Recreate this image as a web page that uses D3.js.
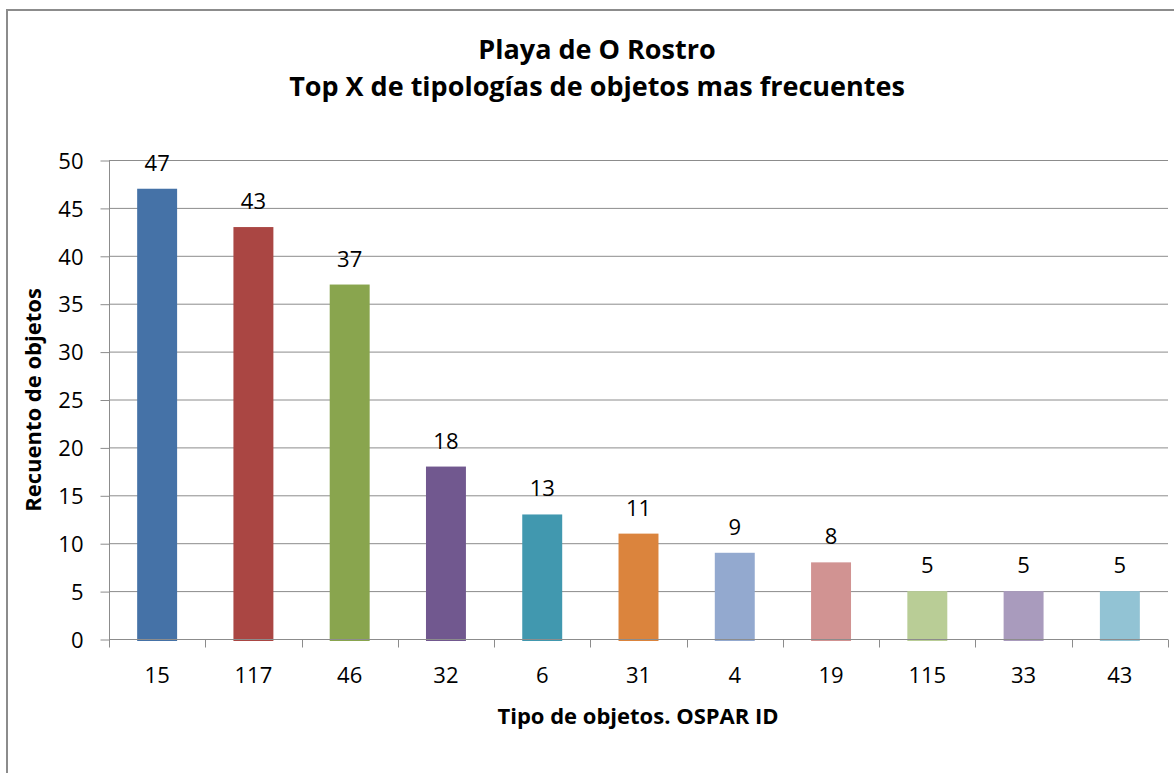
<!DOCTYPE html>
<html>
<head>
<meta charset="utf-8">
<script src="https://cdn.jsdelivr.net/npm/d3@7"></script>
<style>
  body { margin: 0; background: #fff; }
  text { font-family: "Open Sans", "Noto Sans", sans-serif; fill: #000; }
</style>
</head>
<body>
<div id="chart"></div>
<script>
// datos
var categorias = ['15', '117', '46', '32', '6', '31', '4', '19', '115', '33', '43']
var valores = [47, 43, 37, 18, 13, 11, 9, 8, 5, 5, 5]
var colores = ['#4572a7', '#aa4643', '#89a54e', '#71588f', '#4198af', '#db843d',
  '#93a9cf', '#d19392', '#b9cd96', '#a99bbd', '#92c3d4']
var ticksY = [0, 5, 10, 15, 20, 25, 30, 35, 40, 45, 50]
var titulo = ['Playa de O Rostro', 'Top X de tipologías de objetos mas frecuentes']

var width = 1174
var height = 773
var plot = { left: 109, right: 1168, top: 160, bottom: 639 }

var svg = d3.select('#chart').append('svg')
  .attr('width', width)
  .attr('height', height)

// marco exterior
svg.append('rect')
  .attr('x', 7).attr('y', 10)
  .attr('width', width + 20).attr('height', height + 20)
  .attr('fill', '#fff')
  .attr('stroke', '#8c8c8c')
  .attr('stroke-width', 2)

var x = d3.scaleBand()
  .domain(categorias)
  .range([plot.left, plot.right])
  .paddingInner(0.585)
  .paddingOuter(0.2925)

var y = d3.scaleLinear()
  .domain([0, 50])
  .range([plot.bottom, plot.top])

// lineas de division
svg.append('g')
  .selectAll('line')
  .data(ticksY.slice(1))
  .enter().append('line')
  .attr('x1', plot.left).attr('x2', plot.right)
  .attr('y1', function (d) { return y(d) + 0.5 })
  .attr('y2', function (d) { return y(d) + 0.5 })
  .attr('stroke', '#8c8c8c')
  .attr('stroke-width', 1)

// barras
svg.append('g')
  .selectAll('rect')
  .data(valores)
  .enter().append('rect')
  .attr('x', function (d, i) { return x(categorias[i]) })
  .attr('y', function (d) { return y(d) })
  .attr('width', x.bandwidth())
  .attr('height', function (d) { return y(0) - y(d) + 2 })
  .attr('fill', function (d, i) { return colores[i] })

// etiquetas de datos
svg.append('g')
  .selectAll('text')
  .data(valores)
  .enter().append('text')
  .attr('x', function (d, i) { return x(categorias[i]) + x.bandwidth() / 2 })
  .attr('y', function (d) { return y(d) - 18 })
  .attr('text-anchor', 'middle')
  .style('font-size', '22px')
  .text(function (d) { return d })

// eje Y
var ejeY = svg.append('g')
  .attr('transform', 'translate(' + (plot.left + 0.5) + ',0.5)')
  .call(d3.axisLeft(y).tickValues(ticksY).tickSize(9).tickPadding(17))
ejeY.select('.domain').attr('stroke', '#8c8c8c').attr('d', 'M0,' + y(50) + 'V' + y(0))
ejeY.selectAll('.tick line').attr('stroke', '#8c8c8c')
ejeY.selectAll('.tick text')
  .attr('dy', '0.35em')
  .style('font-size', '22px')
  .style('font-family', '"Open Sans", "Noto Sans", sans-serif')
  .attr('fill', '#000')

// eje X
var ejeX = svg.append('g')
  .attr('transform', 'translate(0,' + (plot.bottom + 0.5) + ')')
ejeX.append('line')
  .attr('x1', plot.left).attr('x2', plot.right)
  .attr('stroke', '#8c8c8c')
var limites = d3.range(categorias.length + 1).map(function (i) {
  return plot.left + i * (plot.right - plot.left) / categorias.length
})
ejeX.selectAll('.sep')
  .data(limites)
  .enter().append('line')
  .attr('class', 'sep')
  .attr('x1', function (d) { return Math.round(d) + 0.5 })
  .attr('x2', function (d) { return Math.round(d) + 0.5 })
  .attr('y1', 0).attr('y2', 8)
  .attr('stroke', '#8c8c8c')
ejeX.selectAll('.lbl')
  .data(categorias)
  .enter().append('text')
  .attr('class', 'lbl')
  .attr('x', function (d) { return x(d) + x.bandwidth() / 2 })
  .attr('y', 43)
  .attr('text-anchor', 'middle')
  .style('font-size', '22px')
  .text(function (d) { return d })

// titulos
svg.append('g')
  .selectAll('text')
  .data(titulo)
  .enter().append('text')
  .attr('x', 597)
  .attr('y', function (d, i) { return 59 + i * 37 })
  .attr('text-anchor', 'middle')
  .style('font-size', '27px')
  .style('font-weight', 'bold')
  .text(function (d) { return d })

svg.append('text')
  .attr('x', 638)
  .attr('y', 724)
  .attr('text-anchor', 'middle')
  .style('font-size', '22px')
  .style('font-weight', 'bold')
  .text('Tipo de objetos. OSPAR ID')

svg.append('text')
  .attr('transform', 'translate(41,400)rotate(-90)')
  .attr('text-anchor', 'middle')
  .style('font-size', '22px')
  .style('font-weight', 'bold')
  .text('Recuento de objetos')
</script>
</body>
</html>
